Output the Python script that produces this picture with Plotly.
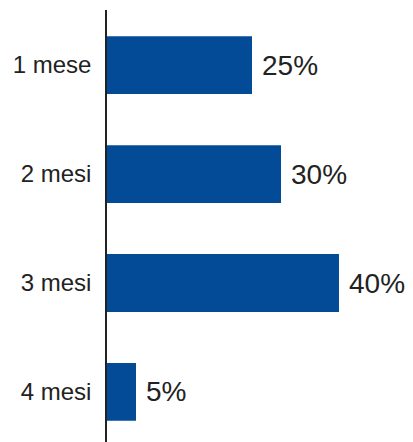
import plotly.graph_objects as go

categories = ["1 mese", "2 mesi", "3 mesi", "4 mesi"]
values = [25, 30, 40, 5]
value_labels = ["25%", "30%", "40%", "5%"]

bar_color = "#034B96"

fig = go.Figure()
fig.add_trace(go.Bar(
    x=values,
    y=categories,
    orientation="h",
    marker=dict(color=bar_color, line=dict(width=0)),
    width=0.53,
    hoverinfo="skip",
))

for v, c, t in zip(values, categories, value_labels):
    fig.add_annotation(
        x=v, y=c, text=t, showarrow=False,
        xanchor="left", yanchor="middle", xshift=8,
        font=dict(family="Liberation Sans, Arial, sans-serif", size=28, color="#222222"),
    )

fig.update_layout(
    width=413, height=442,
    margin=dict(l=107, r=0, t=10, b=0),
    paper_bgcolor="white",
    plot_bgcolor="white",
    showlegend=False,
    font=dict(family="Liberation Sans, Arial, sans-serif", color="#222222"),
)
fig.update_xaxes(
    range=[0, 52.76], visible=False, showgrid=False, zeroline=False,
)
fig.update_yaxes(
    type="category",
    categoryorder="array", categoryarray=categories,
    range=[3.459, -0.505],
    showline=True, linecolor="#222222", linewidth=1.5,
    showgrid=False, zeroline=False,
    ticks="", ticklabelstandoff=9,
    tickfont=dict(size=24, color="#222222"),
)

fig.write_html("out.html")
